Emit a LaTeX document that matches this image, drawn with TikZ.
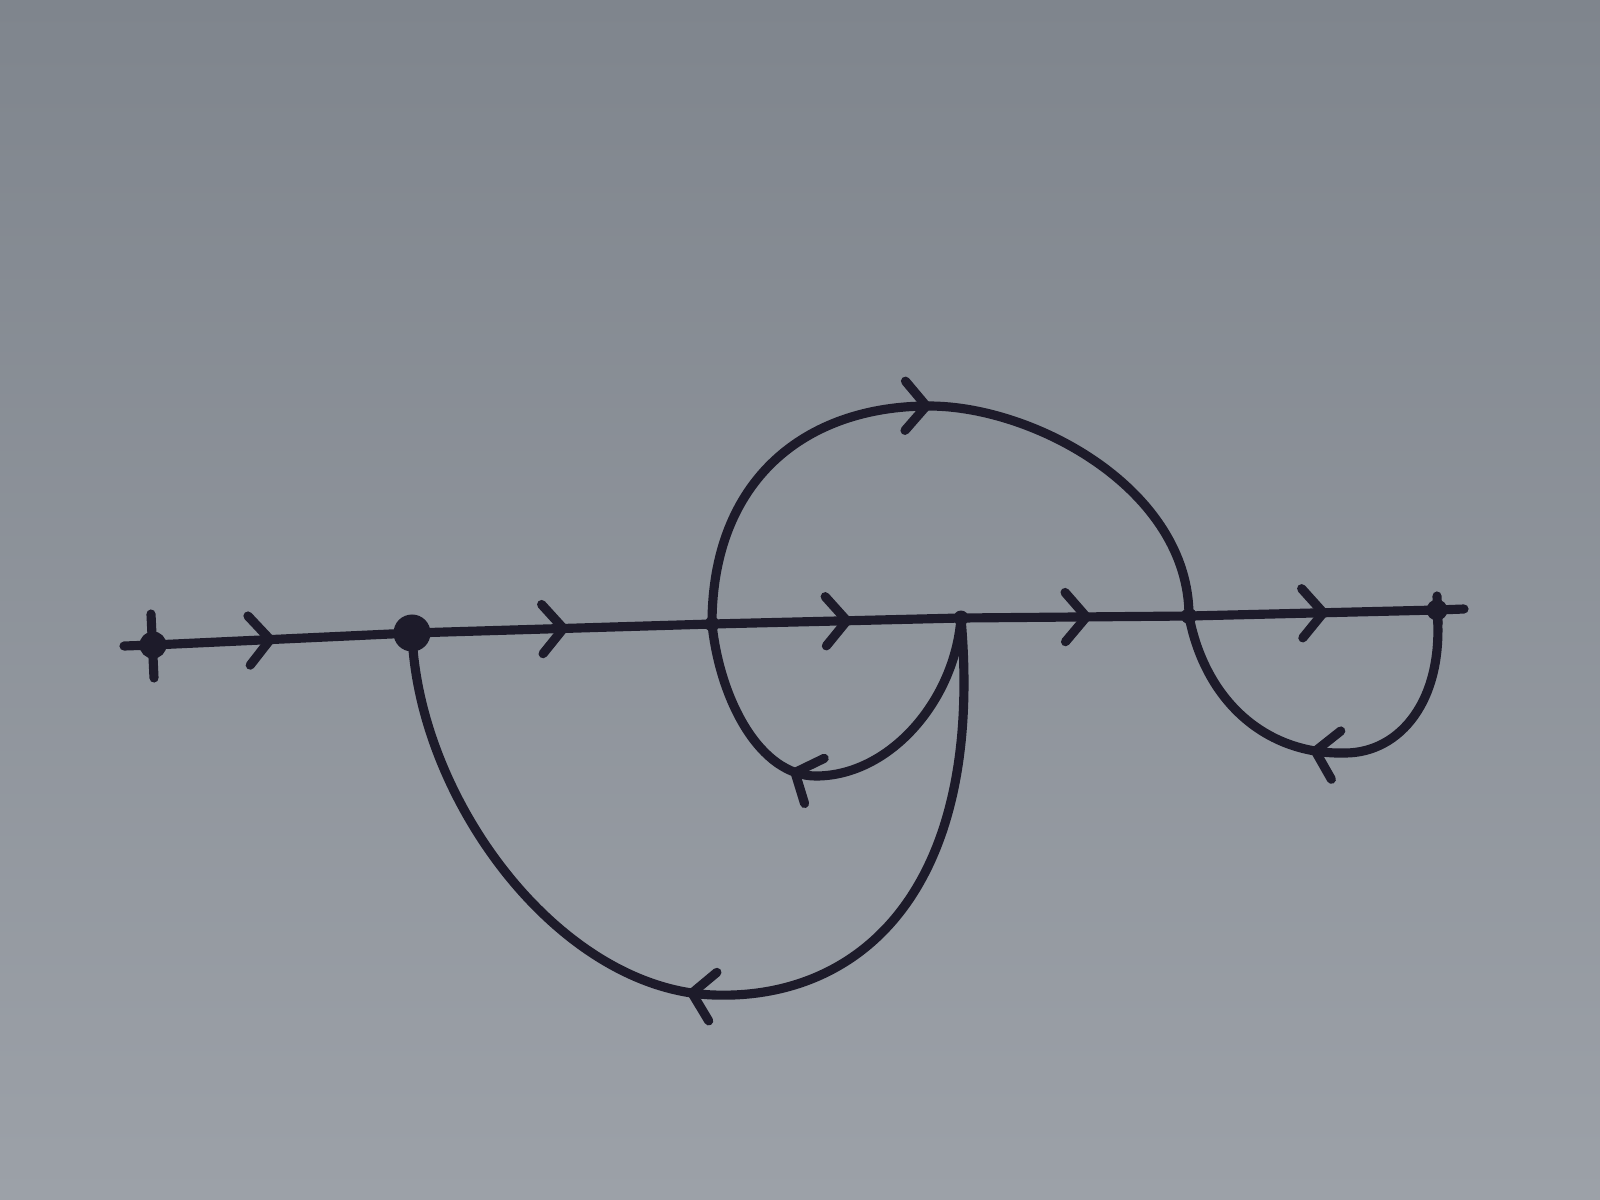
\documentclass[tikz,border=0pt]{standalone}
\usetikzlibrary{arrows.meta,decorations.markings}
\definecolor{ink}{HTML}{1D1B2A}
\definecolor{bgtop}{HTML}{7F858D}
\definecolor{bgbot}{HTML}{9CA1A8}
\tikzset{
  edge/.style={draw=ink, line width=2.6pt, line cap=round, line join=round},
  arr/.style={postaction={decorate}, decoration={markings,
     mark=at position #1 with {\arrow[ink, line width=2.6pt]{Straight Barb[length=6pt,width=14pt,round]}}}},
  sfnode/.style={circle, fill=ink, inner sep=0pt, minimum size=#1},
}
\begin{document}
\begin{tikzpicture}[x=0.01cm,y=-0.01cm]
\shade[top color=bgtop, bottom color=bgbot] (0,0) rectangle (1600,1200);
\useasboundingbox (0,0) rectangle (1600,1200);

% nodes
\node[sfnode=0.27cm] (n1) at (153,645) {};
\node[sfnode=0.37cm] (n2) at (412,633) {};
\node[sfnode=0.15cm] (n3) at (712,624) {};
\node[sfnode=0.15cm] (n4) at (961,618) {};
\node[sfnode=0.16cm] (n5) at (1189,616) {};
\node[sfnode=0.21cm] (n6) at (1437,610) {};
\coordinate (in) at (124,646);
\coordinate (out) at (1464,609);
\coordinate (tt) at (151,614);
\coordinate (tb) at (154,678);
\coordinate (ut) at (1437,596);
\coordinate (ub) at (1438,624);

% input stub and ticks
\draw[edge] (in) -- (n1.center);
\draw[edge] (tt) -- (tb);
\draw[edge] (ut) -- (ub);
\draw[edge] (n6.center) -- (out);

% forward path
\draw[edge, arr=0.47] (n1.center) -- (n2.center);
\draw[edge, arr=0.52] (n2.center) -- (n3.center);
\draw[edge, arr=0.56] (n3.center) -- (n4.center);
\draw[edge, arr=0.57] (n4.center) -- (n5.center);
\draw[edge, arr=0.56] (n5.center) -- (n6.center);

% upper forward arc n3 -> n5
\draw[edge, arr=0.49] (n3.center) .. controls (712,480) and (805,406) .. (929,406)
   .. controls (1035,406) and (1189,490) .. (n5.center);

% small loop n4 -> n3
\draw[edge, arr=0.6] (n4.center) .. controls (955,700) and (890,776) .. (816,776)
   .. controls (760,776) and (720,700) .. (n3.center);

% big loop n4 -> n2
\draw[edge, arr=0.53] (n4.center) .. controls (985,890) and (860,1000) .. (714,995)
   .. controls (560,990) and (418,800) .. (n2.center);

% loop n6 -> n5
\draw[edge, arr=0.54] (n6.center) .. controls (1445,700) and (1400,753) .. (1345,753)
   .. controls (1265,755) and (1205,700) .. (n5.center);
\end{tikzpicture}
\end{document}
